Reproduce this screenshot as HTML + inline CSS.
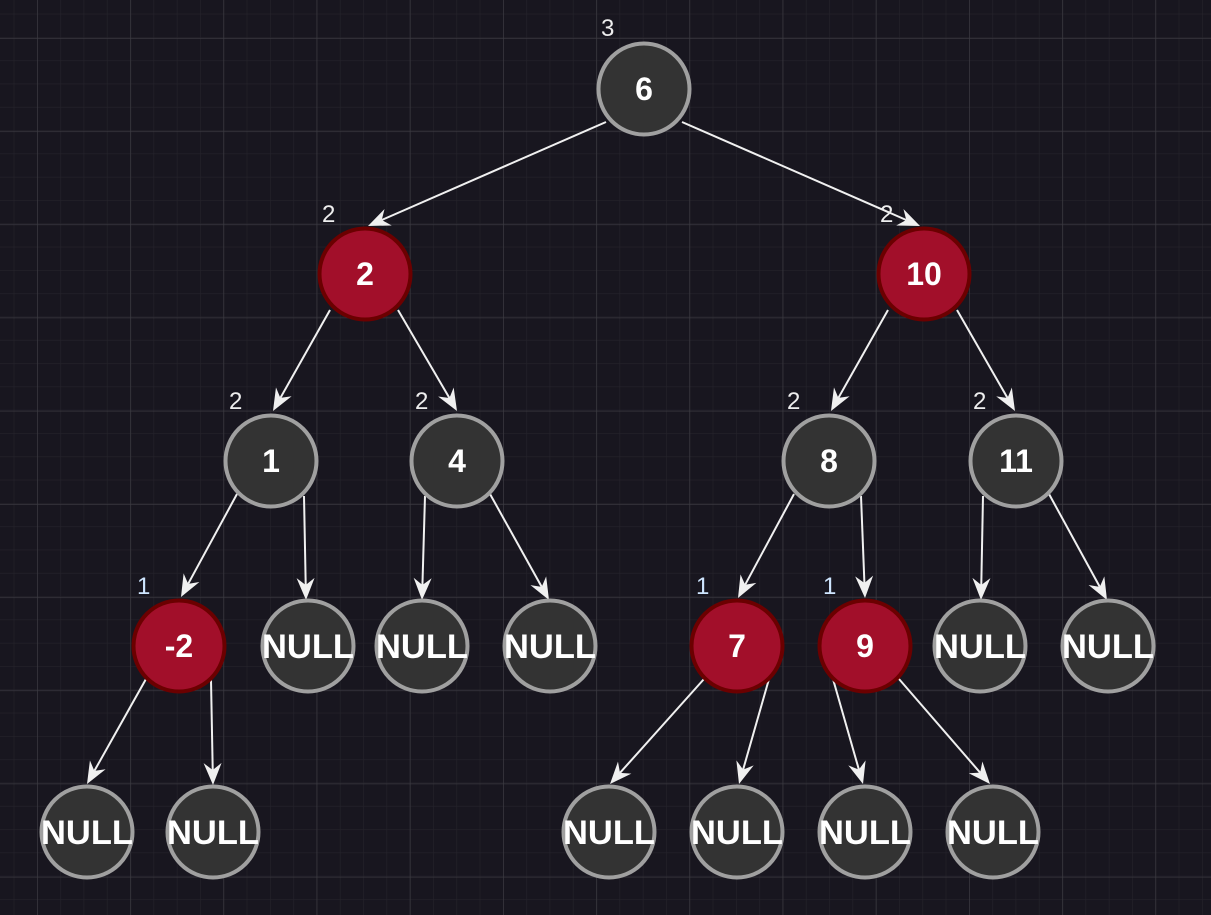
<!DOCTYPE html>
<html><head><meta charset="utf-8"><style>
html,body{margin:0;padding:0;background:#18161f;}
svg{display:block}
text{font-family:"Comic Sans MS","Liberation Sans",sans-serif;}
</style></head><body>
<svg width="1211" height="915" viewBox="0 0 1211 915" xmlns="http://www.w3.org/2000/svg">
<defs>
<pattern id="minor" x="13.7" y="13.7" width="23.3" height="23.3" patternUnits="userSpaceOnUse">
<path d="M0 0H23.3M0 0V23.3" stroke="#25232b" stroke-width="1.2" fill="none"/>
</pattern>
<pattern id="major" x="37" y="38" width="93.2" height="93.2" patternUnits="userSpaceOnUse">
<path d="M0 0H93.2M0 0V93.2" stroke="#3d3c43" stroke-width="1.3" fill="none"/>
</pattern>
</defs>
<rect width="1211" height="915" fill="#18161f"/>
<rect width="1211" height="915" fill="url(#minor)"/>
<rect width="1211" height="915" fill="url(#major)"/>
<g id="edges" stroke="#f0f0f0" stroke-width="2" fill="#f0f0f0"></g>
<g id="nodes"></g>
<g font-size="24" fill="#eeeeee">
<text x="601" y="36">3</text>
<text x="322" y="222">2</text><text x="880" y="222">2</text>
<text x="229" y="409">2</text><text x="415" y="409">2</text><text x="787" y="409">2</text><text x="973" y="409">2</text>
<text x="137" y="594" fill="#cfe6ff">1</text><text x="696" y="594" fill="#cfe6ff">1</text><text x="823" y="594" fill="#cfe6ff">1</text>
</g>
<script>
var ns="http://www.w3.org/2000/svg";
var E=[[606,122,368,226],[682,122,920,226],[330,310,273,411],[398,310,457,411],[888,310,831,411],[957,310,1015,411],
[237,494,181,597],[304,496,306,600],[425,496,422,600],[490,494,549,600],[794,494,738,598],[861,496,865,598],[983,496,981,600],[1049,494,1107,600],
[146,679,87,784],[211,680,213,785],[704,679,610,784],[769,679,739,784],[833,679,863,784],[899,679,990,784]];
var g=document.getElementById('edges');
E.forEach(function(e){
 var dx=e[2]-e[0],dy=e[3]-e[1],L=Math.hypot(dx,dy),ux=dx/L,uy=dy/L;
 var bx=e[2]-ux*22,by=e[3]-uy*22,nx=-uy,ny=ux;
 var l=document.createElementNS(ns,'line');
 l.setAttribute('x1',e[0]);l.setAttribute('y1',e[1]);l.setAttribute('x2',bx+ux*7);l.setAttribute('y2',by+uy*7);g.appendChild(l);
 var p=document.createElementNS(ns,'path');
 p.setAttribute('d','M'+e[2]+' '+e[3]+'L'+(bx+nx*9)+' '+(by+ny*9)+'L'+(bx+ux*7)+' '+(by+uy*7)+'L'+(bx-nx*9)+' '+(by-ny*9)+'Z');
 p.setAttribute('stroke','none');g.appendChild(p);
});
var N=[[644,89,'6',0],[365,274,'2',1],[924,274,'10',1],[271,461,'1',0],[457,461,'4',0],[829,461,'8',0],[1016,461,'11',0],
[179,646,'-2',1],[308,646,'NULL',0],[422,646,'NULL',0],[550,646,'NULL',0],[737,646,'7',1],[865,646,'9',1],[980,646,'NULL',0],[1108,646,'NULL',0],
[87,832,'NULL',0],[213,832,'NULL',0],[609,832,'NULL',0],[737,832,'NULL',0],[865,832,'NULL',0],[993,832,'NULL',0]];
var gn=document.getElementById('nodes');
N.forEach(function(n){
 var c=document.createElementNS(ns,'circle');
 c.setAttribute('cx',n[0]);c.setAttribute('cy',n[1]);c.setAttribute('r',45.5);
 c.setAttribute('fill',n[3]?'#a20f2a':'#333333');c.setAttribute('stroke',n[3]?'#6b0000':'#a0a0a0');c.setAttribute('stroke-width',4);
 gn.appendChild(c);
 var t=document.createElementNS(ns,'text');
 t.setAttribute('x',n[0]);t.setAttribute('y',n[1]+(n[2]=='NULL'?12:11));t.setAttribute('text-anchor','middle');
 t.setAttribute('fill','#ffffff');t.setAttribute('font-weight','bold');
 if(n[2]=='NULL'){t.setAttribute('font-size','34');t.setAttribute('textLength','92');t.setAttribute('lengthAdjust','spacingAndGlyphs');}
 else t.setAttribute('font-size','32');
 t.textContent=n[2];gn.appendChild(t);
});
</script>
</svg>
</body></html>
